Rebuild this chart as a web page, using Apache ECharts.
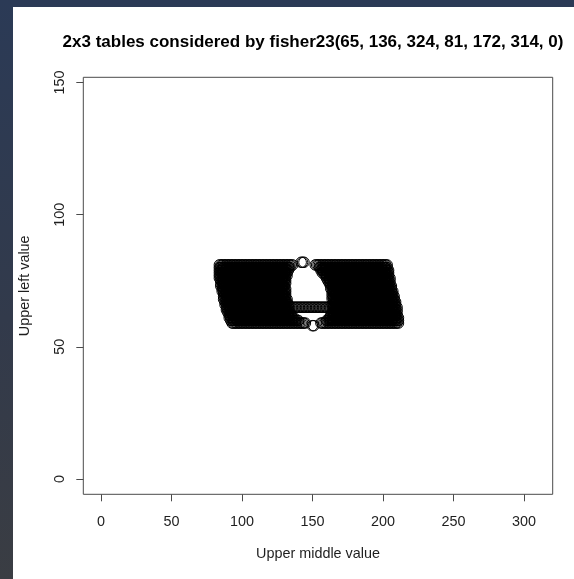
<!DOCTYPE html>
<html>
<head>
<meta charset="utf-8">
<script src="https://cdn.jsdelivr.net/npm/echarts@6/dist/echarts.min.js"></script>
<style>
  html, body { margin: 0; padding: 0; width: 574px; height: 579px; overflow: hidden; }
  body { background: linear-gradient(to bottom, #2b3a56 0%, #323a4b 55%, #3a3d43 100%); position: relative; }
  #chart { position: absolute; left: 13px; top: 7px; width: 561px; height: 572px; background: #ffffff; }
</style>
</head>
<body>
<div id="chart"></div>
<script>
// Upper-row tables (upper left, upper middle) visited by fisher23 for
// the 2x3 table (65, 136, 324 / 81, 172, 314).
// One entry per upper-left value: the span of upper-middle values visited,
// and the span skipped in the middle of the row (null = row fully visited).
const upperLeft   = [59, 60, 61, 62, 63, 64, 65, 66, 67, 68, 69, 70, 71, 72, 73, 74, 75, 76, 77, 78, 79, 80, 81];
const middleFirst = [93, 92, 91, 91, 90, 89, 89, 88, 88, 87, 87, 87, 86, 86, 85, 85, 85, 84, 84, 84, 84, 84, 84];
const middleLast  = [211, 211, 211, 210, 210, 210, 210, 209, 209, 208, 208, 207, 207, 206, 206, 205, 205, 205, 204, 204, 204, 203, 203];
const skipFirst   = [146, 141, 138, 136, 135, 134, null, 134, 133, 133, 132, 132, 132, 132, 131, 132, 132, 132, 133, 133, 134, 135, 137];
const skipLast    = [155, 159, 161, 162, 163, 164, null, 163, 164, 163, 163, 163, 163, 162, 162, 161, 160, 159, 158, 156, 155, 154, 151];

// Single tables just outside the rows above
const extraUpperLeft   = [82, 82, 82, 58, 58];
const extraUpperMiddle = [142, 143, 144, 150, 151];

const xTicks = [0, 50, 100, 150, 200, 250, 300];
const yTicks = [0, 50, 100, 150];

const points = [];
upperLeft.forEach(function (a, i) {
  for (let b = middleFirst[i]; b <= middleLast[i]; b++) {
    if (skipFirst[i] !== null && b >= skipFirst[i] && b <= skipLast[i]) continue;
    points.push([b, a]);
  }
});
extraUpperLeft.forEach(function (a, i) { points.push([extraUpperMiddle[i], a]); });

const FONT = '"Liberation Sans", Arial, Helvetica, sans-serif';
const INK = '#4a4a4a';
const TEXT = '#1e1e1e';

const chart = echarts.init(document.getElementById('chart'), null, { renderer: 'canvas' });
chart.setOption({
  animation: false,
  backgroundColor: '#ffffff',
  graphic: [{
    type: 'text',
    x: 300, y: 27,
    style: {
      text: '2x3 tables considered by fisher23(65, 136, 324, 81, 172, 314, 0)',
      font: 'bold 17px ' + FONT,
      fill: '#000',
      textAlign: 'center',
      textVerticalAlign: 'top'
    }
  }],
  grid: {
    left: 70.3, right: 21.3, top: 70.3, bottom: 84.7,
    outerBoundsMode: 'none', containLabel: false,
    show: true, borderColor: INK, borderWidth: 1, backgroundColor: 'transparent'
  },
  xAxis: {
    type: 'value', min: -12.5, max: 320.4,
    axisLine: { show: false, onZero: false },
    splitLine: { show: false },
    axisTick: { show: true, customValues: xTicks, length: 7, lineStyle: { color: INK, width: 1 } },
    axisLabel: { customValues: xTicks, margin: 21, fontSize: 14.4, color: TEXT, fontFamily: FONT },
    name: 'Upper middle value', nameLocation: 'middle', nameGap: 53,
    nameTextStyle: { fontSize: 14.4, color: TEXT, fontFamily: FONT }
  },
  yAxis: {
    type: 'value', min: -5.8, max: 152,
    axisLine: { show: false, onZero: false },
    splitLine: { show: false },
    axisTick: { show: true, customValues: yTicks, length: 7, lineStyle: { color: INK, width: 1 } },
    axisLabel: { customValues: yTicks, rotate: 90, margin: 16, fontSize: 14.4, color: TEXT, fontFamily: FONT },
    name: 'Upper left value', nameLocation: 'middle', nameGap: 51.5, nameRotate: 90,
    nameTextStyle: { fontSize: 14.4, color: TEXT, fontFamily: FONT }
  },
  series: [{
    type: 'scatter',
    data: points,
    symbol: 'circle',
    symbolSize: 10.5,
    progressive: 0,
    large: false,
    silent: true,
    itemStyle: { color: 'rgba(0,0,0,0)', borderColor: '#000', borderWidth: 1, opacity: 1 }
  }]
});
</script>
</body>
</html>
